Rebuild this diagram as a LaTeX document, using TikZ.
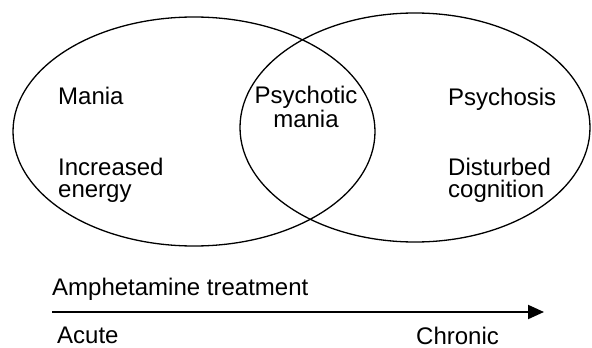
\documentclass[tikz,border=0pt]{standalone}
\usepackage{fontspec}
\setmainfont{Liberation Sans}
\usetikzlibrary{arrows.meta}
\begin{document}
\begin{tikzpicture}[x=1pt,y=-1pt,
  lbl/.style={anchor=base west,inner sep=0pt,font=\fontsize{24}{22}\selectfont,align=left},
  clbl/.style={anchor=base,inner sep=0pt,font=\fontsize{24}{22}\selectfont,align=center},
  ring/.style={draw,line width=1.3pt}]
\useasboundingbox (0,0) rectangle (592,348);
\draw[ring] (194,131.5) ellipse [x radius=181,y radius=114.5];
\draw[ring] (415,127.5) ellipse [x radius=175,y radius=114.5];
\node[lbl] (mania) at (58,104) {Mania};
\node[lbl] (energy) at (58,197) {Increased\\energy};
\node[clbl] (pm) at (306,127) {Psychotic\\mania};
\node[lbl] (psy) at (448,105) {Psychosis};
\node[lbl] (cog) at (448,197) {Disturbed\\cognition};
\node[lbl] (amph) at (52,295) {Amphetamine treatment};
\node[lbl] (acute) at (57,343) {Acute};
\node[lbl] (chronic) at (416,344) {Chronic};
\coordinate (a0) at (52,312);
\coordinate (a1) at (544,312);
\draw[line width=2pt,-{Triangle[length=16pt,width=14pt]}] (a0) -- (a1);
\end{tikzpicture}
\end{document}
